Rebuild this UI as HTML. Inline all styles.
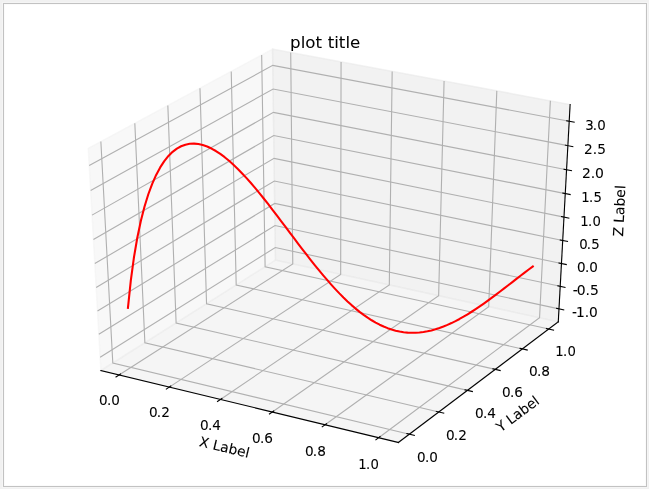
<!DOCTYPE html>
<html lang="en"><head><meta charset="utf-8"><title>plot title</title>
<style>
html,body{margin:0;padding:0;background:#f1f1f1;overflow:hidden}
#win{position:absolute;left:0;top:0;width:649px;height:489px;background:#f1f1f1;overflow:hidden}
#bevel{position:absolute;left:2px;top:2px;width:644px;height:484px;border:1px solid #f5f5f5}
#frame{position:absolute;left:3px;top:3px;width:642px;height:482px;border:1px solid #c2c2c2;background:#fbfbfb}
#canvas{position:absolute;left:5px;top:5px;width:640px;height:480px;background:#fff}
svg{position:absolute;left:0;top:0;display:block}
.t{font-family:"DejaVu Sans","Liberation Sans",sans-serif;font-size:13.89px;fill:#000;stroke:#000;stroke-width:0.08px}
.tt{font-family:"DejaVu Sans","Liberation Sans",sans-serif;font-size:16.67px;fill:#000;stroke:#000;stroke-width:0.05px}
</style></head><body>
<div id="win"><div id="bevel"></div><div id="frame"></div><div id="canvas"></div>
<svg width="649" height="489" viewBox="0 0 649 489">
<polygon points="100.88,370.56 275.47,260.14 272.56,49.15 88.24,148.36" fill="rgb(242,242,242)" fill-opacity="0.5" stroke="rgb(242,242,242)" stroke-opacity="0.5" stroke-width="1.39" stroke-linejoin="miter"/>
<polygon points="275.47,260.14 558.28,321.87 570.11,104.51 272.56,49.15" fill="rgb(230,230,230)" fill-opacity="0.5" stroke="rgb(230,230,230)" stroke-opacity="0.5" stroke-width="1.39" stroke-linejoin="miter"/>
<polygon points="100.88,370.56 398.44,442.46 558.28,321.87 275.47,260.14" fill="rgb(236,236,236)" fill-opacity="0.5" stroke="rgb(236,236,236)" stroke-opacity="0.5" stroke-width="1.39" stroke-linejoin="miter"/>
<g fill="none" stroke="#b0b0b0" stroke-width="1.11" stroke-linejoin="miter" stroke-linecap="butt">
<polyline points="119.03,374.94 292.77,263.92 290.72,52.52"/>
<polyline points="169.32,387.1 340.68,274.37 341.06,61.89"/>
<polyline points="220.41,399.44 389.3,284.99 392.17,71.4"/>
<polyline points="272.32,411.98 438.64,295.76 444.08,81.06"/>
<polyline points="325.07,424.73 488.72,306.69 496.81,90.87"/>
<polyline points="378.68,437.68 539.56,317.79 550.37,100.84"/>
<polyline points="100.86,141.56 112.8,363.03 409.38,434.21"/>
<polyline points="134.82,123.28 144.88,342.74 438.82,412"/>
<polyline points="167.84,105.51 176.11,322.98 467.45,390.4"/>
<polyline points="199.97,88.22 206.55,303.73 495.31,369.38"/>
<polyline points="231.23,71.39 236.2,284.98 522.42,348.92"/>
<polyline points="261.67,55.01 265.11,266.69 548.83,329.01"/>
<polyline points="558.99,308.88 275.3,247.5 100.13,357.3"/>
<polyline points="560.22,286.32 274.99,225.57 98.82,334.27"/>
<polyline points="561.46,263.52 274.69,203.41 97.5,310.98"/>
<polyline points="562.71,240.47 274.38,181.01 96.16,287.43"/>
<polyline points="563.98,217.15 274.07,158.37 94.8,263.6"/>
<polyline points="565.27,193.59 273.75,135.5 93.43,239.51"/>
<polyline points="566.56,169.75 273.43,112.38 92.04,215.13"/>
<polyline points="567.87,145.65 273.11,89.01 90.64,190.47"/>
<polyline points="569.2,121.28 272.79,65.38 89.22,165.52"/>
</g>
<g fill="none" stroke="#000" stroke-width="1.11" stroke-linecap="square">
<line x1="100.88" y1="370.56" x2="398.44" y2="442.46"/>
<line x1="558.28" y1="321.87" x2="398.44" y2="442.46"/>
<line x1="558.28" y1="321.87" x2="570.11" y2="104.51"/>
<line x1="120.52" y1="373.99" x2="116.03" y2="376.86"/>
<line x1="170.8" y1="386.12" x2="166.36" y2="389.04"/>
<line x1="221.87" y1="398.45" x2="217.49" y2="401.42"/>
<line x1="273.76" y1="410.98" x2="269.45" y2="413.99"/>
<line x1="326.48" y1="423.71" x2="322.24" y2="426.77"/>
<line x1="380.07" y1="436.65" x2="375.89" y2="439.76"/>
<line x1="406.9" y1="433.61" x2="414.35" y2="435.4"/>
<line x1="436.36" y1="411.42" x2="443.74" y2="413.16"/>
<line x1="465.01" y1="389.83" x2="472.32" y2="391.53"/>
<line x1="492.89" y1="368.83" x2="500.14" y2="370.48"/>
<line x1="520.03" y1="348.39" x2="527.21" y2="349.99"/>
<line x1="546.46" y1="328.49" x2="553.57" y2="330.05"/>
<line x1="556.62" y1="308.37" x2="563.73" y2="309.91"/>
<line x1="557.84" y1="285.82" x2="564.98" y2="287.34"/>
<line x1="559.06" y1="263.02" x2="566.25" y2="264.53"/>
<line x1="560.31" y1="239.97" x2="567.53" y2="241.46"/>
<line x1="561.56" y1="216.66" x2="568.83" y2="218.14"/>
<line x1="562.83" y1="193.1" x2="570.14" y2="194.56"/>
<line x1="564.11" y1="169.27" x2="571.47" y2="170.71"/>
<line x1="565.41" y1="145.18" x2="572.81" y2="146.6"/>
<line x1="566.72" y1="120.81" x2="574.16" y2="122.21"/>
</g>
<polyline points="127.94,307.87 130.83,280.32 133.98,257.17 137.34,237.54 140.87,220.81 144.54,206.51 148.32,194.26 152.2,183.81 156.16,174.91 160.19,167.4 164.29,161.13 168.43,155.97 172.62,151.83 176.85,148.61 181.11,146.24 185.4,144.66 189.72,143.8 194.05,143.6 198.4,144.02 202.76,145.02 207.13,146.54 211.52,148.56 215.9,151.02 220.29,153.91 224.68,157.18 229.06,160.79 233.45,164.73 237.83,168.95 242.2,173.43 246.56,178.14 250.92,183.06 255.27,188.15 259.6,193.39 263.93,198.76 268.24,204.23 272.54,209.78 276.82,215.39 281.09,221.03 285.35,226.68 289.59,232.33 293.82,237.95 298.03,243.53 302.23,249.04 306.41,254.48 310.58,259.82 314.73,265.05 318.88,270.16 323,275.12 327.12,279.94 331.22,284.6 335.31,289.08 339.38,293.38 343.45,297.49 347.51,301.4 351.55,305.1 355.59,308.58 359.62,311.85 363.64,314.88 367.65,317.69 371.66,320.26 375.66,322.59 379.65,324.69 383.64,326.54 387.63,328.15 391.62,329.52 395.6,330.65 399.58,331.54 403.56,332.2 407.55,332.61 411.53,332.8 415.51,332.76 419.49,332.5 423.48,332.01 427.47,331.32 431.46,330.42 435.46,329.32 439.46,328.03 443.46,326.55 447.47,324.9 451.49,323.07 455.5,321.09 459.53,318.96 463.56,316.69 467.6,314.28 471.64,311.75 475.68,309.11 479.74,306.37 483.79,303.54 487.86,300.63 491.93,297.66 496,294.62 500.08,291.53 504.16,288.41 508.25,285.27 512.34,282.11 516.43,278.94 520.52,275.78 524.62,272.64 528.72,269.53 532.82,266.45" fill="none" stroke="#ff0000" stroke-width="2.08" stroke-linejoin="round" stroke-linecap="square"/>
<text transform="translate(224.31 448.08) rotate(13.29) scale(0.9971 1)" x="0" y="4" text-anchor="middle" class="t" style="font-size:13.85px">X Label</text>
<text transform="translate(109.4 405) scale(0.9630 1)" dx="0 -0.73 -0.08" text-anchor="middle" class="t" style="font-size:14.04px">0.0</text>
<text transform="translate(159.4 417) scale(0.9711 1)" dx="0 -0.85 0.12" text-anchor="middle" class="t" style="font-size:14.06px">0.2</text>
<text transform="translate(210.37 430) scale(0.9641 1)" dx="0 -0.66 -0.17" text-anchor="middle" class="t" style="font-size:14.15px">0.4</text>
<text transform="translate(262.43 443) scale(0.9720 1)" dx="0 -0.68 -0.17" text-anchor="middle" class="t" style="font-size:14.03px">0.6</text>
<text transform="translate(315.45 456) scale(0.9699 1)" dx="0 -0.88 -0.03" text-anchor="middle" class="t" style="font-size:14.12px">0.8</text>
<text transform="translate(368.51 469) scale(0.9397 1)" dx="0 -0.56 0.15" text-anchor="middle" class="t" style="font-size:14.06px">1.0</text>
<text transform="translate(518.09 414.57) rotate(-36.49) scale(0.9808 1)" x="0" y="4" dx="0 -0.18" text-anchor="middle" class="t" style="font-size:13.95px">Y Label</text>
<text transform="translate(427.42 462) scale(0.9630 1)" dx="0 -0.73 -0.08" text-anchor="middle" class="t" style="font-size:14.04px">0.0</text>
<text transform="translate(456.48 440) scale(0.9673 1)" dx="0 -0.85 0.25" text-anchor="middle" class="t" style="font-size:14.11px">0.2</text>
<text transform="translate(485.38 418) scale(0.9641 1)" dx="0 -0.66 -0.17" text-anchor="middle" class="t" style="font-size:14.15px">0.4</text>
<text transform="translate(512.43 397) scale(0.9720 1)" dx="0 -0.68 -0.17" text-anchor="middle" class="t" style="font-size:14.03px">0.6</text>
<text transform="translate(539.53 376) scale(0.9764 1)" dx="0 -0.77 0.04" text-anchor="middle" class="t" style="font-size:14.06px">0.8</text>
<text transform="translate(565.52 356) scale(0.9397 1)" dx="0 -0.56 0.15" text-anchor="middle" class="t" style="font-size:14.06px">1.0</text>
<text transform="translate(620.24 210.92) rotate(-87.28) scale(0.9988 1)" x="0" y="4" dx="0 -0.2" text-anchor="middle" class="t" style="font-size:13.93px">Z Label</text>
<text transform="translate(584.91 317) scale(0.9800 1)" dx="0 -1 -0.1 0.1" text-anchor="middle" class="t" style="font-size:14.06px">-1.0</text>
<text transform="translate(585.81 295) scale(0.9846 1)" dx="0 -1.05 -0.15 0.19" text-anchor="middle" class="t" style="font-size:14.12px">-0.5</text>
<text transform="translate(587.41 272) scale(0.9630 1)" dx="0 -0.73 -0.08" text-anchor="middle" class="t" style="font-size:14.04px">0.0</text>
<text transform="translate(589.48 249) scale(0.9450 1)" dx="0 -1.02 0.21" text-anchor="middle" class="t" style="font-size:14.06px">0.5</text>
<text transform="translate(590.53 226) scale(0.9397 1)" dx="0 -0.56 0.15" text-anchor="middle" class="t" style="font-size:14.06px">1.0</text>
<text transform="translate(591.57 202) scale(0.9378 1)" dx="0 -0.62 0.15" text-anchor="middle" class="t" style="font-size:14.11px">1.5</text>
<text transform="translate(592.91 178) scale(0.9884 1)" dx="0 -0.14 -0.06" text-anchor="middle" class="t" style="font-size:14.13px">2.0</text>
<text transform="translate(595.07 154) scale(0.9833 1)" dx="0 0 0.17" text-anchor="middle" class="t" style="font-size:13.96px">2.5</text>
<text transform="translate(595.52 130) scale(0.9465 1)" dx="0 -1.17 0.2" text-anchor="middle" class="t" style="font-size:14.17px">3.0</text>
<text x="325.18" y="48" dx="0 0 0 0 0 0.35" text-anchor="middle" class="tt">plot title</text>
</svg></div>
</body></html>
